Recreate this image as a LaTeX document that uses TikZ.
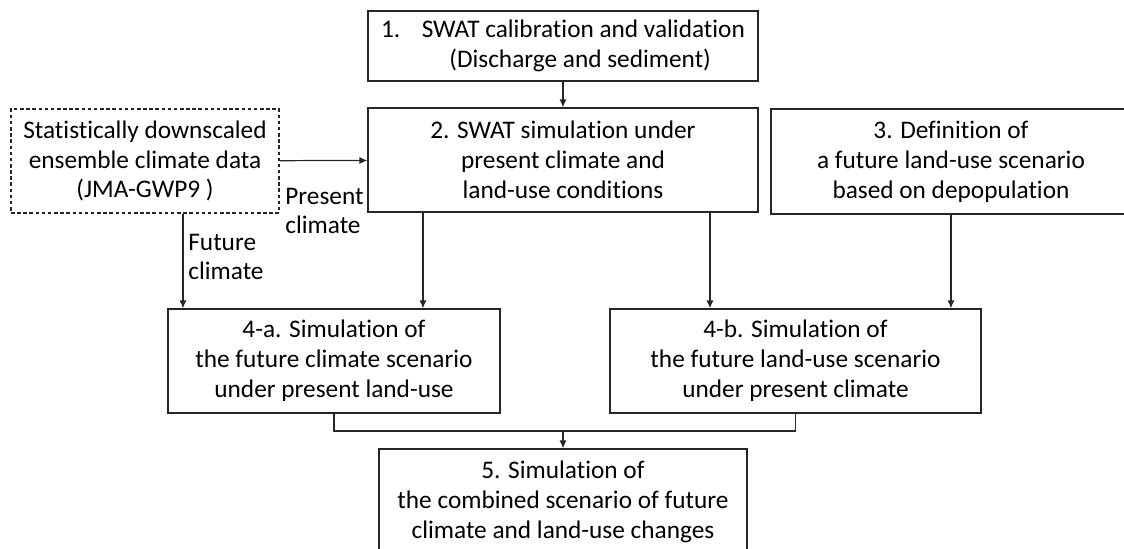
\documentclass[tikz,border=0pt]{standalone}
\usepackage{fontspec}
\setmainfont{Carlito}[Ligatures=NoCommon]
\usetikzlibrary{arrows.meta}
\begin{document}
\begin{tikzpicture}[
    every node/.style={align=center, font=\fontsize{14.4}{17}\selectfont},
    plain box/.style={draw=black!85, line width=0.7pt, rectangle, inner sep=0pt},
    dashed box/.style={plain box, dash pattern=on 2pt off 1.5pt},
    flow arrow/.style={draw=black!85, line width=0.7pt, -{Latex[length=4.5pt,width=4pt]}},
    flow line/.style={draw=black!85, line width=0.7pt},
    ]
\useasboundingbox (0,0) rectangle (22.48,-10.98);
\node[plain box, minimum width=7.80cm, minimum height=1.40cm, align=left] (cal) at (11.26,-0.92) {1.\hspace{0.85em}SWAT calibration and validation\\\hspace*{2.7em}(Discharge and sediment)};
\node[plain box, minimum width=7.80cm, minimum height=2.08cm] (sim) at (11.26,-3.20) {2. SWAT simulation under\\present climate and\\land-use conditions};
\node[dashed box, minimum width=5.36cm, minimum height=2.08cm] (data) at (2.90,-3.22) {Statistically downscaled\\ensemble climate data\\(JMA-GWP9 )};
\node[plain box, minimum width=7.20cm, minimum height=2.10cm] (landuse) at (19.02,-3.23) {3. Definition of\\a future land-use scenario\\based on depopulation};
\node[plain box, minimum width=6.64cm, minimum height=2.08cm] (climA) at (6.68,-7.22) {4-a. Simulation of\\the future climate scenario\\under present land-use};
\node[plain box, minimum width=7.42cm, minimum height=2.08cm] (landB) at (15.91,-7.22) {4-b. Simulation of\\the future land-use scenario\\under present climate};
\node[plain box, minimum width=7.36cm, minimum height=2.12cm] (comb) at (11.26,-10.04) {5. Simulation of\\the combined scenario of future\\climate and land-use changes};
\node[anchor=west, align=left, inner sep=0pt] (present) at (5.70,-4.22) {Present\\climate};
\node[anchor=west, align=left, inner sep=0pt] (future) at (3.76,-5.14) {Future\\climate};
\draw[flow arrow] (cal) -- (sim);
\draw[flow arrow] (data) -- (sim);
\draw[flow arrow] ([xshift=0.76cm]data.south) -- ([xshift=0.76cm]data.south |- climA.north);
\draw[flow arrow] ([xshift=-2.80cm]sim.south) -- ([xshift=-2.80cm]sim.south |- climA.north);
\draw[flow arrow] ([xshift=2.94cm]sim.south) -- ([xshift=2.94cm]sim.south |- landB.north);
\draw[flow arrow] (landuse.south) -- (landuse.south |- landB.north);
\coordinate (merge) at (11.26,-8.62);
\draw[flow line] (climA.south) |- (merge) -| (landB.south);
\draw[flow arrow] (merge) -- (comb);
\end{tikzpicture}
\end{document}
